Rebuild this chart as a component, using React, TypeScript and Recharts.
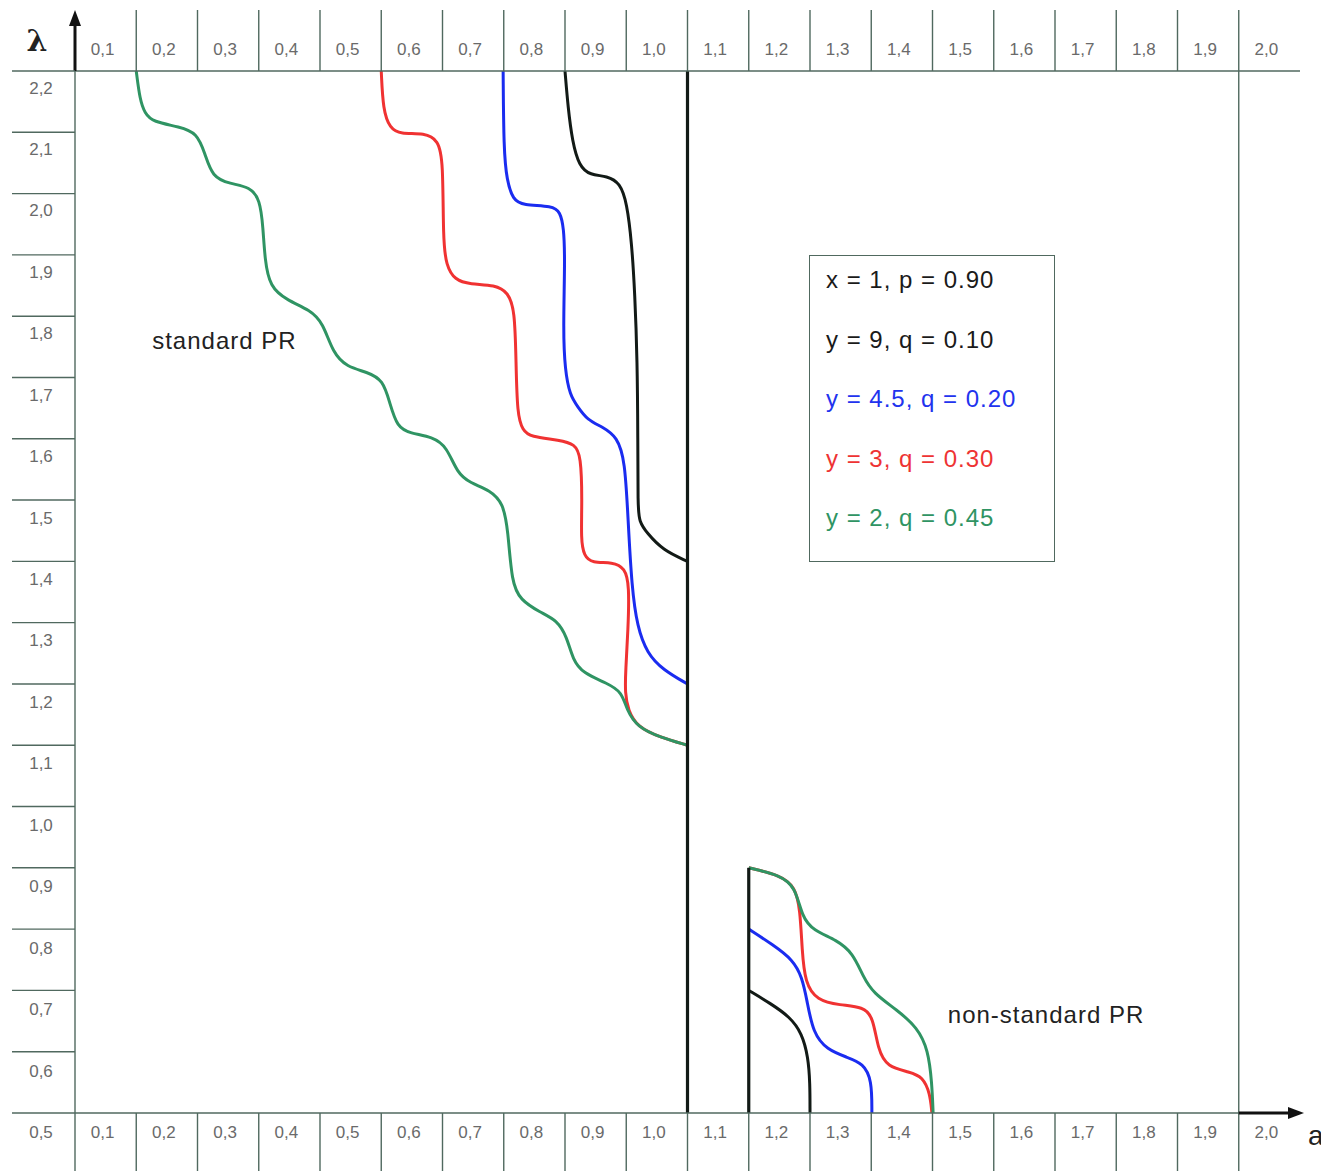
import React from 'react'
import { LineChart, Line, XAxis, YAxis, ReferenceLine, ReferenceDot, Legend } from 'recharts'

const FRAME = '#50695f'
const LABEL = '#6a6a6a'
const SANS = '"Liberation Sans", Arial, sans-serif'
const CELL = 61.25 // px per 0.1 step on both axes

const A_TICKS = [0, 0.1, 0.2, 0.3, 0.4, 0.5, 0.6, 0.7, 0.8, 0.9, 1.0, 1.1, 1.2, 1.3, 1.4, 1.5, 1.6, 1.7, 1.8, 1.9, 2.0]
const LAMBDA_TICKS = [0.5, 0.6, 0.7, 0.8, 0.9, 1.0, 1.1, 1.2, 1.3, 1.4, 1.5, 1.6, 1.7, 1.8, 1.9, 2.0, 2.1, 2.2]

const LEGEND_LABELS = ['x = 1, p = 0.90', 'y = 9, q = 0.10', 'y = 4.5, q = 0.20', 'y = 3, q = 0.30', 'y = 2, q = 0.45']
const LEGEND_COLORS = ['#1a1a1a', '#1a1a1a', '#2233ee', '#ee3333', '#2f9463']

// standard PR (a <= 1)
const BLACK_STD_A = [0.800, 0.805, 0.812, 0.823, 0.841, 0.869, 0.890, 0.901, 0.909, 0.914, 0.918, 0.919, 0.919, 0.921, 0.934, 0.960, 1.000]
const BLACK_STD_L = [2.200, 2.140, 2.085, 2.045, 2.030, 2.029, 2.017, 1.985, 1.919, 1.838, 1.728, 1.598, 1.490, 1.465, 1.446, 1.418, 1.400]

const BLUE_STD_A = [0.699, 0.700, 0.705, 0.715, 0.731, 0.780, 0.792, 0.798, 0.800, 0.797, 0.800, 0.808, 0.821, 0.836, 0.862, 0.885, 0.898, 0.903, 0.909, 0.918, 0.934, 0.960, 1.000]
const BLUE_STD_L = [2.200, 2.071, 2.022, 1.990, 1.981, 1.980, 1.970, 1.945, 1.892, 1.777, 1.712, 1.671, 1.652, 1.631, 1.619, 1.603, 1.565, 1.467, 1.358, 1.293, 1.250, 1.223, 1.200]

const RED_STD_A = [0.500, 0.503, 0.514, 0.531, 0.571, 0.593, 0.601, 0.601, 0.606, 0.620, 0.645, 0.686, 0.707, 0.718, 0.720, 0.722, 0.731, 0.743, 0.792, 0.816, 0.826, 0.828, 0.826, 0.831, 0.844, 0.878, 0.898, 0.905, 0.903, 0.899, 0.898, 0.903, 0.918, 0.955, 1.000]
const RED_STD_L = [2.200, 2.136, 2.107, 2.097, 2.099, 2.087, 2.055, 1.924, 1.883, 1.859, 1.852, 1.851, 1.839, 1.810, 1.728, 1.639, 1.614, 1.603, 1.598, 1.591, 1.573, 1.500, 1.435, 1.409, 1.397, 1.399, 1.389, 1.361, 1.288, 1.223, 1.185, 1.157, 1.130, 1.113, 1.100]

const GREEN_STD_A = [0.100, 0.106, 0.114, 0.127, 0.171, 0.199, 0.212, 0.224, 0.253, 0.286, 0.302, 0.307, 0.310, 0.318, 0.346, 0.384, 0.405, 0.421, 0.444, 0.477, 0.503, 0.514, 0.526, 0.547, 0.584, 0.607, 0.624, 0.645, 0.678, 0.699, 0.707, 0.713, 0.727, 0.759, 0.787, 0.803, 0.813, 0.829, 0.869, 0.893, 0.901, 0.918, 0.955, 1.000]
const GREEN_STD_L = [2.200, 2.153, 2.131, 2.117, 2.109, 2.099, 2.066, 2.027, 2.016, 2.011, 1.990, 1.945, 1.892, 1.848, 1.826, 1.810, 1.789, 1.740, 1.717, 1.709, 1.696, 1.658, 1.619, 1.609, 1.603, 1.587, 1.544, 1.528, 1.516, 1.495, 1.451, 1.365, 1.337, 1.317, 1.304, 1.277, 1.239, 1.218, 1.201, 1.187, 1.157, 1.130, 1.113, 1.100]

// non-standard PR (a > 1)
const BLACK_NS_A = [1.100, 1.135, 1.167, 1.187, 1.197, 1.200, 1.200]
const BLACK_NS_L = [0.700, 0.679, 0.657, 0.630, 0.591, 0.549, 0.500]

const BLUE_NS_A = [1.100, 1.140, 1.172, 1.187, 1.195, 1.205, 1.228, 1.260, 1.287, 1.301, 1.301]
const BLUE_NS_L = [0.800, 0.774, 0.750, 0.722, 0.684, 0.630, 0.603, 0.591, 0.581, 0.554, 0.500]

const RED_NS_A = [1.100, 1.151, 1.176, 1.184, 1.187, 1.192, 1.211, 1.249, 1.287, 1.303, 1.311, 1.326, 1.363, 1.384, 1.396, 1.399]
const RED_NS_L = [0.900, 0.888, 0.869, 0.831, 0.766, 0.712, 0.684, 0.676, 0.673, 0.657, 0.603, 0.575, 0.567, 0.559, 0.532, 0.500]

const GREEN_NS_A = [1.100, 1.151, 1.176, 1.187, 1.205, 1.244, 1.270, 1.287, 1.303, 1.342, 1.375, 1.393, 1.399, 1.401]
const GREEN_NS_L = [0.900, 0.888, 0.869, 0.820, 0.798, 0.782, 0.761, 0.722, 0.696, 0.668, 0.640, 0.603, 0.549, 0.500]

// boundaries a = 1 and a = 1.1
const EDGE_STD_A = [1.0, 1.0]
const EDGE_STD_L = [2.2, 0.5]
const EDGE_NS_A = [1.1, 1.1]
const EDGE_NS_L = [0.9, 0.5]

const zip = (a: number[], l: number[]) => a.map((v, i) => ({ a: v, l: l[i] }))
const fmt = (v: number) => v.toFixed(1).replace('.', ',')

const labelStyle = { fontFamily: SANS, fontSize: 17, fill: LABEL }

function TopTick({ x, y, payload }: any) {
  const v = payload.value
  if (v === 0) {
    return (
      <g>
        <line x1={x} y1={y} x2={x} y2={y - 46} stroke="#111" strokeWidth={3} />
        <path d={`M${x - 6},${y - 45} L${x},${y - 61} L${x + 6},${y - 45} Z`} fill="#111" />
        <text x={x - 38} y={y - 31} textAnchor="middle" dominantBaseline="central"
          fontFamily='"DejaVu Serif", serif' fontWeight="bold" fontSize={30} fill="#222">λ</text>
      </g>
    )
  }
  return (
    <g>
      {v < 2 && <line x1={x} y1={y} x2={x} y2={y - 61} stroke={FRAME} strokeWidth={1.4} />}
      <text x={x - CELL / 2 - 3} y={y - 22} textAnchor="middle" dominantBaseline="central" {...labelStyle}>{fmt(v)}</text>
    </g>
  )
}

function BottomTick({ x, y, payload }: any) {
  const v = payload.value
  return (
    <g>
      {v < 2 && <line x1={x} y1={y} x2={x} y2={y + 60} stroke={FRAME} strokeWidth={1.4} />}
      {v > 0 && (
        <text x={x - CELL / 2 - 3} y={y + 19} textAnchor="middle" dominantBaseline="central" {...labelStyle}>{fmt(v)}</text>
      )}
      {v === 2 && (
        <g>
          <line x1={x - CELL} y1={y} x2={x - 10} y2={y} stroke="#111" strokeWidth={3} />
          <path d={`M${x - 12},${y - 6} L${x + 4},${y} L${x - 12},${y + 6} Z`} fill="#111" />
          <text x={x + 8} y={y + 32} fontFamily={SANS} fontSize={28} fill="#222">a</text>
        </g>
      )}
    </g>
  )
}

function LeftTick({ x, y, payload }: any) {
  const v = payload.value
  return (
    <g>
      <line x1={x - 63} y1={y} x2={x} y2={y} stroke={FRAME} strokeWidth={1.4} />
      <text x={x - 34} y={y + 17 + (2.2 - v) * 1.5} textAnchor="middle" dominantBaseline="central" {...labelStyle}>{fmt(v)}</text>
    </g>
  )
}

function LegendBox() {
  return (
    <div style={{
      width: '100%', height: '100%', boxSizing: 'border-box', border: `1.5px solid ${FRAME}`,
      background: '#fff', paddingLeft: 16, fontFamily: SANS, fontSize: 24, letterSpacing: 1, overflow: 'hidden',
    }}>
      {LEGEND_LABELS.map((t, i) => (
        <div key={t} style={{ height: 59.6, lineHeight: '59.6px', color: LEGEND_COLORS[i], marginTop: i === 0 ? -6 : 0 }}>{t}</div>
      ))}
    </div>
  )
}

const noteText = (text: string) => (p: any) => (
  <text x={p.cx} y={p.cy} dominantBaseline="central" fontFamily={SANS} fontSize={24} letterSpacing={1} fill="#222">{text}</text>
)

export default function App() {
  const line = (key: string, data: { a: number; l: number }[], color: string, width = 3, type: any = 'basis') => (
    <Line key={key} name={key} data={data} dataKey="l" xAxisId="bottom" yAxisId="left" type={type}
      stroke={color} strokeWidth={width} dot={false} activeDot={false} legendType="none" isAnimationActive={false} />
  )
  return (
    <LineChart width={1321} height={1163} margin={{ top: 0, right: 29, bottom: 0, left: 0 }}>
      <XAxis xAxisId="top" orientation="top" type="number" dataKey="a" domain={[0, 2]} allowDataOverflow
        ticks={A_TICKS} interval={0} height={63} tickSize={0} tickMargin={0} tickLine={false}
        axisLine={{ stroke: FRAME, strokeWidth: 1.4 }} tick={<TopTick />} />
      <XAxis xAxisId="bottom" orientation="bottom" type="number" dataKey="a" domain={[0, 2]} allowDataOverflow
        ticks={A_TICKS} interval={0} height={58} tickSize={0} tickMargin={0} tickLine={false}
        axisLine={{ stroke: FRAME, strokeWidth: 1.4 }} tick={<BottomTick />} />
      <YAxis yAxisId="left" type="number" domain={[0.5, 2.2]} allowDataOverflow
        ticks={LAMBDA_TICKS} interval={0} width={67} tickSize={0} tickMargin={0} tickLine={false}
        axisLine={{ stroke: FRAME, strokeWidth: 1.4 }} tick={<LeftTick />} />
      <ReferenceLine xAxisId="bottom" yAxisId="left" x={1.9} stroke={FRAME} strokeWidth={1.4} />

      {line('x = 1, p = 0.90', zip(BLACK_STD_A, BLACK_STD_L), '#121a16')}
      {line('y = 4.5, q = 0.20', zip(BLUE_STD_A, BLUE_STD_L), '#1a2cf0')}
      {line('y = 3, q = 0.30', zip(RED_STD_A, RED_STD_L), '#f03232')}
      {line('y = 2, q = 0.45', zip(GREEN_STD_A, GREEN_STD_L), '#2f9463')}

      {line('y = 9, q = 0.10 (ns)', zip(BLACK_NS_A, BLACK_NS_L), '#121a16')}
      {line('y = 4.5, q = 0.20 (ns)', zip(BLUE_NS_A, BLUE_NS_L), '#1a2cf0')}
      {line('y = 3, q = 0.30 (ns)', zip(RED_NS_A, RED_NS_L), '#f03232')}
      {line('y = 2, q = 0.45 (ns)', zip(GREEN_NS_A, GREEN_NS_L), '#2f9463')}

      {line('a = 1', zip(EDGE_STD_A, EDGE_STD_L), '#121a16', 3.2, 'linear')}
      {line('a = 1.1', zip(EDGE_NS_A, EDGE_NS_L), '#121a16', 3.2, 'linear')}

      <ReferenceDot xAxisId="bottom" yAxisId="left" x={0.126} y={1.761} r={0} shape={noteText('standard PR')} />
      <ReferenceDot xAxisId="bottom" yAxisId="left" x={1.425} y={0.660} r={0} shape={noteText('non-standard PR')} />

      <Legend layout="vertical" align="center" verticalAlign="middle"
        wrapperStyle={{ position: 'absolute', left: 801, top: 247, width: 246, height: 307, margin: 0 }}
        content={() => <LegendBox />} />
    </LineChart>
  )
}
